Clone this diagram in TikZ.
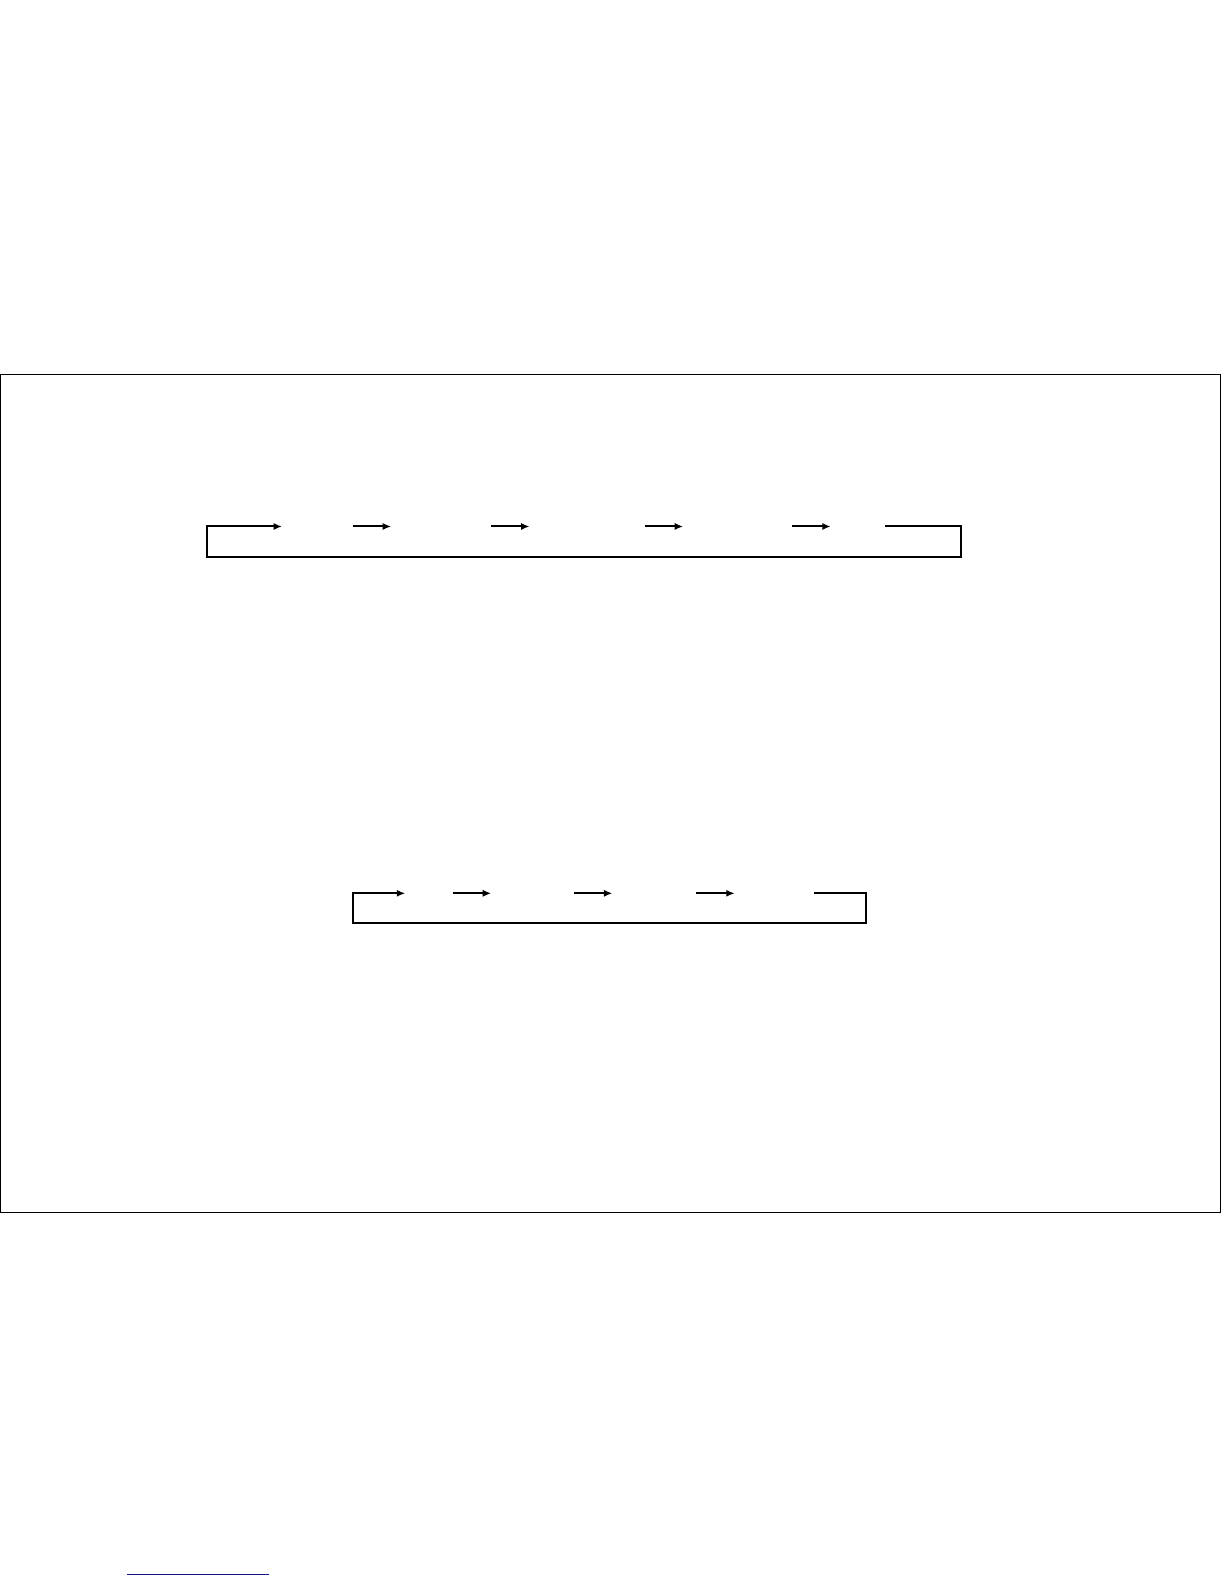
\documentclass[tikz,border=0pt]{standalone}
\usepackage{xcolor}
\usetikzlibrary{arrows.meta,calc,positioning}
\definecolor{linkblue}{RGB}{20,20,130}
\tikzset{
  frameline/.style={line width=0.018cm},
  loopline/.style={line width=0.035cm},
  looparrow/.style={loopline,-{Latex[length=4.2pt,width=3.6pt]}},
}
\begin{document}
\begin{tikzpicture}[x=0.5053pt,y=-0.5053pt]
                \useasboundingbox (0,0) rectangle (1211.3,1567.5);
                
                % Drawing frame
                \coordinate (fa) at (0.8,371);
                \coordinate (fb) at (1208,1200);
                \draw [frameline] (fa) rectangle (fb);%
                
                % Points of the upper loop
                \coordinate (a) at (205,521);
                \coordinate (b) at (279,521);
                \coordinate (c) at (349,521);
                \coordinate (d) at (387,521);
                \coordinate (e) at (486,521);
                \coordinate (f) at (524,521);
                \coordinate (g) at (638,521);
                \coordinate (h) at (676,521);
                \coordinate (i) at (784,521);
                \coordinate (j) at (822,521);
                \coordinate (k) at (876,521);
                \coordinate (l) at (951,521);
                \coordinate (m) at (951,551);
                \coordinate (n) at (205,551);
                
                % Drawing loop k l m n a b
                \draw [looparrow] (k) -- (l) -- (m) -- (n) -- (a) -- (b);%
                
                % Drawing arrows c d, e f, g h, i j
                \draw [looparrow] (c) -- (d);%
                \draw [looparrow] (e) -- (f);%
                \draw [looparrow] (g) -- (h);%
                \draw [looparrow] (i) -- (j);%
                
                % Points of the lower loop
                \coordinate (o) at (349,884);
                \coordinate (p) at (401,884);
                \coordinate (q) at (448,884);
                \coordinate (r) at (486,884);
                \coordinate (s) at (568,884);
                \coordinate (t) at (606,884);
                \coordinate (u) at (689,884);
                \coordinate (v) at (727,884);
                \coordinate (w) at (806,884);
                \coordinate (x) at (857,884);
                \coordinate (y) at (857,913);
                \coordinate (z) at (349,913);
                
                % Drawing loop w x y z o p
                \draw [looparrow] (w) -- (x) -- (y) -- (z) -- (o) -- (p);%
                
                % Drawing arrows q r, s t, u v
                \draw [looparrow] (q) -- (r);%
                \draw [looparrow] (s) -- (t);%
                \draw [looparrow] (u) -- (v);%
                
                % Drawing segment under the page
                \coordinate (ua) at (126,1558);
                \coordinate (ub) at (266,1558);
                \draw [line width=0.02cm, linkblue] (ua) -- (ub);%
            \end{tikzpicture}
\end{document}
